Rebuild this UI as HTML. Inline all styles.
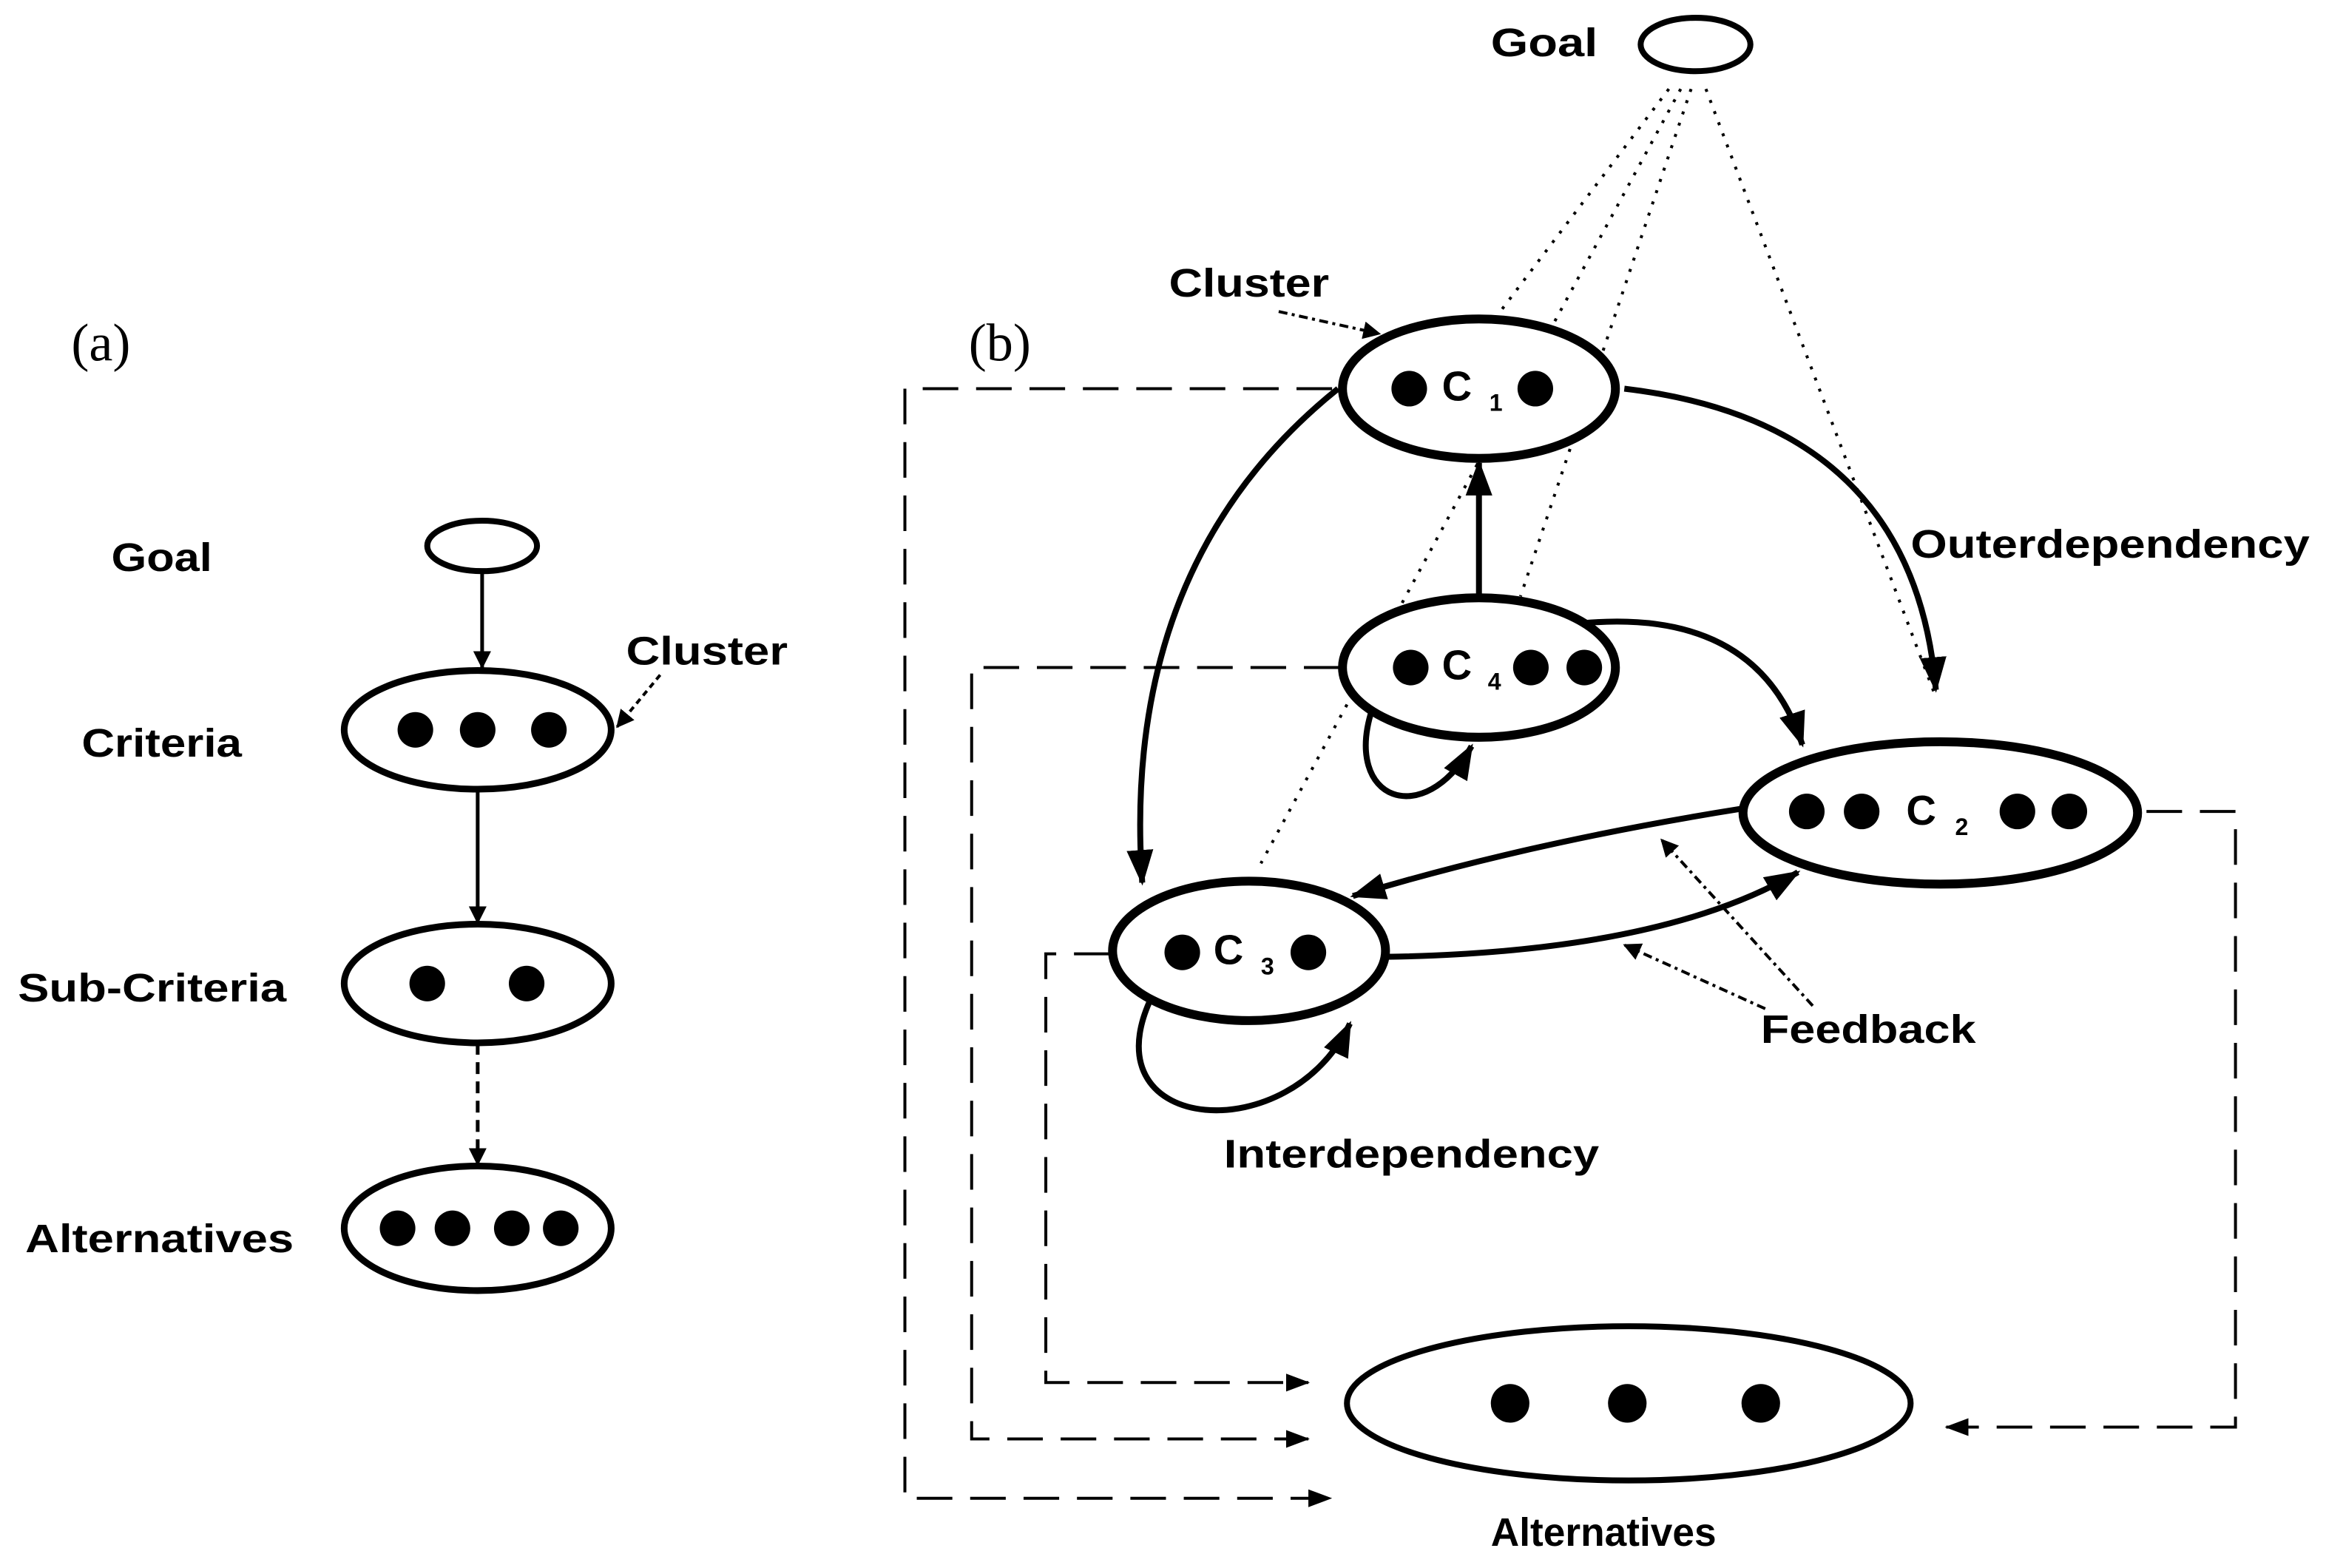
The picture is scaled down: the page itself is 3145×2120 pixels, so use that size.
<!DOCTYPE html>
<html><head><meta charset="utf-8"><style>
html,body{margin:0;padding:0;background:#fff}
svg{display:block}
text{font-family:"Liberation Sans",sans-serif;font-weight:bold;fill:#000}
.s{font-family:"Liberation Serif",serif;font-weight:normal}
</style></head><body>
<svg width="3145" height="2120" viewBox="0 0 1568 1057" xmlns="http://www.w3.org/2000/svg">
<defs>
<marker id="a" markerWidth="12" markerHeight="12" refX="11" refY="6" orient="auto" markerUnits="userSpaceOnUse"><path d="M0,0 L12,6 L0,12 z" fill="#000"/></marker>
<marker id="A" markerWidth="24" markerHeight="24" refX="22" refY="12" orient="auto" markerUnits="userSpaceOnUse"><path d="M0,3 L24,12 L0,21 z" fill="#000"/></marker>
<marker id="d" markerWidth="16" markerHeight="14" refX="15" refY="7" orient="auto" markerUnits="userSpaceOnUse"><path d="M0,1 L16,7 L0,13 z" fill="#000"/></marker>
</defs>

<!-- (a) -->
<text x="48" y="243" class="s" font-size="36">(a)</text>
<text x="75" y="385" font-size="27" textLength="68" lengthAdjust="spacingAndGlyphs">Goal</text>
<text x="55" y="510" font-size="27" textLength="108" lengthAdjust="spacingAndGlyphs">Criteria</text>
<text x="12" y="675" font-size="27" textLength="181" lengthAdjust="spacingAndGlyphs">Sub-Criteria</text>
<text x="17" y="844" font-size="27" textLength="181" lengthAdjust="spacingAndGlyphs">Alternatives</text>
<text x="422" y="448" font-size="27" textLength="109" lengthAdjust="spacingAndGlyphs">Cluster</text>
<ellipse cx="325" cy="368" rx="37" ry="17" fill="none" stroke="#000" stroke-width="4"/>
<line x1="325" y1="386" x2="325" y2="450" stroke="#000" stroke-width="2.5" marker-end="url(#a)"/>
<ellipse cx="322" cy="492" rx="90" ry="40" fill="none" stroke="#000" stroke-width="4.5"/>
<circle cx="280" cy="492" r="12"/><circle cx="322" cy="492" r="12"/><circle cx="370" cy="492" r="12"/>
<line x1="445" y1="455" x2="416" y2="490" stroke="#000" stroke-width="2" stroke-dasharray="4,3" marker-end="url(#a)"/>
<line x1="322" y1="532" x2="322" y2="622" stroke="#000" stroke-width="2.5" marker-end="url(#a)"/>
<ellipse cx="322" cy="663" rx="90" ry="40" fill="none" stroke="#000" stroke-width="4.5"/>
<circle cx="288" cy="663" r="12"/><circle cx="355" cy="663" r="12"/>
<line x1="322" y1="703" x2="322" y2="785" stroke="#000" stroke-width="2.5" stroke-dasharray="8,5" marker-end="url(#a)"/>
<ellipse cx="322" cy="828" rx="90" ry="42" fill="none" stroke="#000" stroke-width="4.5"/>
<circle cx="268" cy="828" r="12"/><circle cx="305" cy="828" r="12"/><circle cx="345" cy="828" r="12"/><circle cx="378" cy="828" r="12"/>

<!-- (b) -->
<text x="653" y="243" class="s" font-size="36">(b)</text>
<text x="1005" y="38" font-size="27" textLength="72" lengthAdjust="spacingAndGlyphs">Goal</text>
<ellipse cx="1143" cy="30" rx="37" ry="18" fill="none" stroke="#000" stroke-width="4"/>
<g stroke="#000" stroke-width="2" stroke-dasharray="2,6" fill="none">
<line x1="1125" y1="60" x2="1000" y2="225"/>
<line x1="1133" y1="60" x2="850" y2="582"/>
<line x1="1140" y1="60" x2="1025" y2="402"/>
<line x1="1150" y1="60" x2="1305" y2="470"/>
</g>
<text x="788" y="200" font-size="27" textLength="108" lengthAdjust="spacingAndGlyphs">Cluster</text>
<line x1="862" y1="210" x2="930" y2="225" stroke="#000" stroke-width="2" stroke-dasharray="6,3,2,3" marker-end="url(#a)"/>

<g fill="none" stroke="#000" stroke-width="4">
<path d="M1095,262 Q1290,285 1305,465" marker-end="url(#A)"/>
<path d="M902,262 Q755,380 770,595" marker-end="url(#A)"/>
<line x1="997" y1="403" x2="997" y2="312" marker-end="url(#A)"/>
<path d="M1068,420 Q1185,410 1215,502" marker-end="url(#A)"/>
<path d="M1175,545 Q1030,568 912,604" marker-end="url(#A)"/>
<path d="M935,645 Q1120,642 1212,588" marker-end="url(#A)"/>
<path d="M925,478 C905,540 960,560 992,503" marker-end="url(#A)"/>
<path d="M775,675 C735,765 870,775 910,690" marker-end="url(#A)"/>
</g>

<ellipse cx="997" cy="262" rx="92" ry="47" fill="#fff" stroke="#000" stroke-width="6"/>
<circle cx="950" cy="262" r="12"/><circle cx="1035" cy="262" r="12"/>
<text x="972" y="270" font-size="28">C</text><text x="1004" y="277" font-size="16">1</text>

<ellipse cx="997" cy="450" rx="92" ry="47" fill="#fff" stroke="#000" stroke-width="6"/>
<circle cx="951" cy="450" r="12"/><circle cx="1032" cy="450" r="12"/><circle cx="1068" cy="450" r="12"/>
<text x="972" y="458" font-size="28">C</text><text x="1003" y="465" font-size="16">4</text>

<ellipse cx="1308" cy="548" rx="133" ry="48" fill="#fff" stroke="#000" stroke-width="6"/>
<circle cx="1218" cy="547" r="12"/><circle cx="1255" cy="547" r="12"/><circle cx="1360" cy="547" r="12"/><circle cx="1395" cy="547" r="12"/>
<text x="1285" y="556" font-size="28">C</text><text x="1318" y="563" font-size="16">2</text>

<ellipse cx="842" cy="641" rx="92" ry="47" fill="#fff" stroke="#000" stroke-width="6"/>
<circle cx="797" cy="642" r="12"/><circle cx="882" cy="642" r="12"/>
<text x="818" y="650" font-size="28">C</text><text x="850" y="657" font-size="16">3</text>

<text x="1288" y="376" font-size="27" textLength="269" lengthAdjust="spacingAndGlyphs">Outerdependency</text>
<text x="1187" y="703" font-size="27" textLength="145" lengthAdjust="spacingAndGlyphs">Feedback</text>
<text x="825" y="787" font-size="27" textLength="253" lengthAdjust="spacingAndGlyphs">Interdependency</text>
<text x="1005" y="1042" font-size="27" textLength="152" lengthAdjust="spacingAndGlyphs">Alternatives</text>
<g stroke="#000" stroke-width="2" stroke-dasharray="6,3,2,3" fill="none">
<line x1="1222" y1="678" x2="1120" y2="566" marker-end="url(#a)"/>
<line x1="1190" y1="680" x2="1095" y2="637" marker-end="url(#a)"/>
</g>

<ellipse cx="1098" cy="946" rx="190" ry="52" fill="none" stroke="#000" stroke-width="4"/>
<circle cx="1018" cy="946" r="13"/><circle cx="1097" cy="946" r="13"/><circle cx="1187" cy="946" r="13"/>

<g fill="none" stroke="#000" stroke-width="2" stroke-dasharray="24,12">
<polyline points="898,262 610,262 610,1010 897,1010" marker-end="url(#d)"/>
<polyline points="903,450 655,450 655,970 882,970" marker-end="url(#d)"/>
<polyline points="748,643 705,643 705,932 882,932" marker-end="url(#d)"/>
<polyline points="1447,547 1507,547 1507,962 1312,962" marker-end="url(#d)"/>
</g>
</svg>
</body></html>
